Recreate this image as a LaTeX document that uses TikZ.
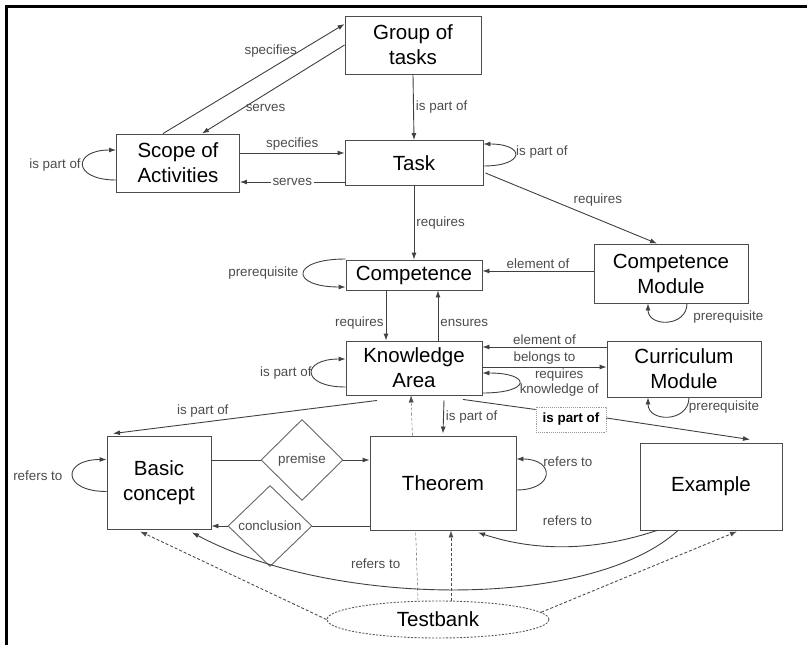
\documentclass[tikz,border=0pt]{standalone}
\usepackage{fontspec}
\setmainfont{Liberation Sans}
\usetikzlibrary{arrows.meta, positioning, calc, shapes.geometric, backgrounds}

\begin{document}
\begin{tikzpicture}[
  x=1pt, y=1pt, line width=0.9pt,
  block/.style = {draw=black!70, fill=white, align=center, inner sep=2pt,
                  font=\fontsize{20.5}{25}\selectfont},
  arrow/.style = {draw=black!75, -{Latex[length=7pt, width=5pt]}},
  link/.style = {draw=black!75},
  dep/.style = {arrow, draw=black!70, dash pattern=on 3pt off 2pt},
  lbl/.style = {font=\fontsize{13.4}{15}\selectfont, text=black!70, inner sep=2pt},
  cond/.style = {diamond, draw=black!60, fill=white, inner sep=0pt,
                 minimum width=82pt, minimum height=81pt,
                 font=\fontsize{13.4}{15}\selectfont, text=black!70},
  bank/.style = {ellipse, draw=black!65, dash pattern=on 2pt off 1.5pt, inner sep=0pt,
                 minimum width=222pt, minimum height=37pt,
                 font=\fontsize{20.5}{25}\selectfont}
]
\useasboundingbox (0,0) rectangle (807,-645);

% Frame
\draw[line width=2.4pt] (6.5,-645) -- (6.5,-6.5) -- (807,-6.5);

% Blocks
\node[block, minimum width=136pt, minimum height=58pt] (grp) at (413,-45) {Group of\\tasks};
\node[block, minimum width=123pt, minimum height=58pt] (scope) at (178,-163) {Scope of\\Activities};
\node[block, minimum width=138pt, minimum height=45pt] (task) at (414,-163) {Task};
\node[block, minimum width=136pt, minimum height=30pt] (comp) at (414,-275) {Competence};
\node[block, minimum width=154pt, minimum height=59pt] (cmod) at (671,-273.5) {Competence\\Module};
\node[block, minimum width=136pt, minimum height=54pt] (ka) at (414,-368) {Knowledge\\Area};
\node[block, minimum width=154pt, minimum height=56pt] (curm) at (684,-369) {Curriculum\\Module};
\node[block, minimum width=104pt, minimum height=93pt] (bc) at (159,-482.5) {Basic\\concept};
\node[block, minimum width=146pt, minimum height=94pt] (thm) at (443,-483) {Theorem};
\node[block, minimum width=142pt, minimum height=87pt] (ex) at (711,-486.5) {Example};
\node[cond] (pre) at (302,-460) {premise};
\node[cond, minimum width=84pt] (conc) at (270,-526) {conclusion};
\node[bank] (tb) at (438,-619.5) {Testbank};
\node[draw=black!40, densely dotted, fill=white, minimum width=70pt, minimum height=25pt,
      inner sep=0pt, font=\fontsize{13.4}{15}\selectfont\bfseries] (ipo) at (571,-419.5) {is part of};

% Scope of Activities
\draw[arrow] ([xshift=-15pt]scope.north) -- node[lbl, pos=0.75, left] {specifies} ([yshift=21pt]grp.west);
\draw[arrow] (grp.west) -- node[lbl, pos=0.71, right] {serves} ([xshift=24pt]scope.north);
\draw[arrow] ([yshift=10pt]scope.east) -- node[lbl, above] {specifies} ([yshift=10pt]task.west);
\draw[arrow] ([yshift=-19pt]task.west) -- node[lbl, fill=white] {serves} ([yshift=-19pt]scope.east);
\draw[arrow] ([yshift=-17pt]scope.west) to[out=180, in=180, looseness=3.75]
  node[lbl, midway, left] {is part of} ([yshift=13pt]scope.west);

% Task
\draw[arrow] (grp.south) -- node[lbl, right] {is part of} (task.north);
\draw[arrow] ([yshift=-3pt]task.east) to[out=0, in=0, looseness=4.9]
  node[lbl, pos=0.6, right] {is part of} ([yshift=19pt]task.east);
\draw[arrow] (task.south) -- node[lbl, right] {requires} (comp.north);
\draw[arrow] ([xshift=2pt, yshift=-10pt]task.east) -- node[lbl, midway, above right] {requires} ([xshift=-14pt]cmod.north);

% Competence
\draw[arrow] ([yshift=2.5pt]cmod.west) -- node[lbl, above] {element of} ([yshift=4pt]comp.east);
\draw[arrow] ([xshift=16pt]cmod.south) to[out=-90, in=-90, looseness=1.57]
  node[lbl, pos=0.25, right, xshift=10pt] {prerequisite} ([xshift=-23pt]cmod.south);
\draw[arrow] ([yshift=16pt]comp.west) to[out=180, in=180, looseness=5.1]
  node[lbl, midway, left=3pt] {prerequisite} ([yshift=-12pt]comp.west);
\draw[arrow] ([xshift=-28pt]comp.south) -- node[lbl, pos=0.65, left] {requires} ([xshift=-28pt]ka.north);
\draw[arrow] ([xshift=24pt]ka.north) -- node[lbl, pos=0.35, right] {ensures} ([xshift=24pt]comp.south);

% Knowledge Area
\draw[arrow] ([yshift=22pt]curm.west) -- node[lbl, above] {element of} ([yshift=21pt]ka.east);
\draw[arrow] ([yshift=1pt]ka.east) -- node[lbl, above] {belongs to} ([yshift=2pt]curm.west);
\draw[arrow] ([yshift=-25pt]ka.east) to[out=0, in=0, looseness=6.3]
  node[lbl, midway, right, inner sep=0pt, align=center] {requires\\knowledge of} ([yshift=-5pt]ka.east);
\draw[arrow] ([xshift=5pt]curm.south) to[out=-90, in=-90, looseness=1.58]
  node[lbl, pos=0.15, right] {prerequisite} ([xshift=-36pt]curm.south);
\draw[arrow] ([yshift=-19pt]ka.west) to[out=180, in=180, looseness=4.1]
  node[lbl, midway, left, inner sep=0pt] {is part of} ([yshift=9pt]ka.west);
\draw[arrow] ([xshift=-37pt, yshift=-5pt]ka.south) -- node[lbl, pos=0.66, above=3pt] {is part of} ([xshift=-46pt, yshift=2pt]bc.north);
\draw[arrow] ([xshift=30pt, yshift=-5pt]ka.south) -- node[lbl, right] {is part of} ([yshift=2pt]thm.north);
\draw[link] ([xshift=49pt, yshift=-4pt]ka.south) -- ([yshift=10pt]ipo.west);
\draw[arrow] ([yshift=1.5pt]ipo.east) -- ([xshift=39pt, yshift=3pt]ex.north);

% Basic concept and Theorem
\draw[arrow] ([yshift=-9pt]bc.west) to[out=180, in=180, looseness=3.6]
  node[lbl, midway, left=8pt] {refers to} ([yshift=23pt]bc.west);
\draw[arrow] ([yshift=-7pt]thm.east) to[out=0, in=0, looseness=3.2]
  node[lbl, pos=0.7, right, yshift=4pt] {refers to} ([yshift=24pt]thm.east);
\draw[link] (pre.west -| bc.east) -- (pre.west);
\draw[arrow] (pre.east) -- (pre.east -| thm.west);
\draw[link] (conc.east -| thm.west) -- (conc.east);
\draw[arrow] (conc.west) -- (conc.west -| bc.east);

% Example
\draw[arrow] ([xshift=-54pt]ex.south) .. controls +(-60,-20) and +(60,-20) .. ([xshift=35pt, yshift=-2pt]thm.south)
  node[lbl, midway, above=18pt] {refers to};
\draw[arrow] ([xshift=-33pt]ex.south) .. controls +(-88,-80) and +(140,-75) .. ([xshift=33pt, yshift=-3pt]bc.south)
  node[lbl, pos=0.64, above=14pt] {refers to};

% Testbank
\begin{scope}[on background layer]
  \draw[dep] ($(tb.north)+(-20,0)$) -- ([xshift=-3pt]ka.south);
\end{scope}
\draw[dep] ($(tb.north)+(13,0)$) -- ([xshift=8pt]thm.south);
\draw[dep] (tb.west) -- ([xshift=-19pt, yshift=-2pt]bc.south);
\draw[dep] (tb.4) -- ([xshift=26pt, yshift=-1pt]ex.south);

\end{tikzpicture}
\end{document}
